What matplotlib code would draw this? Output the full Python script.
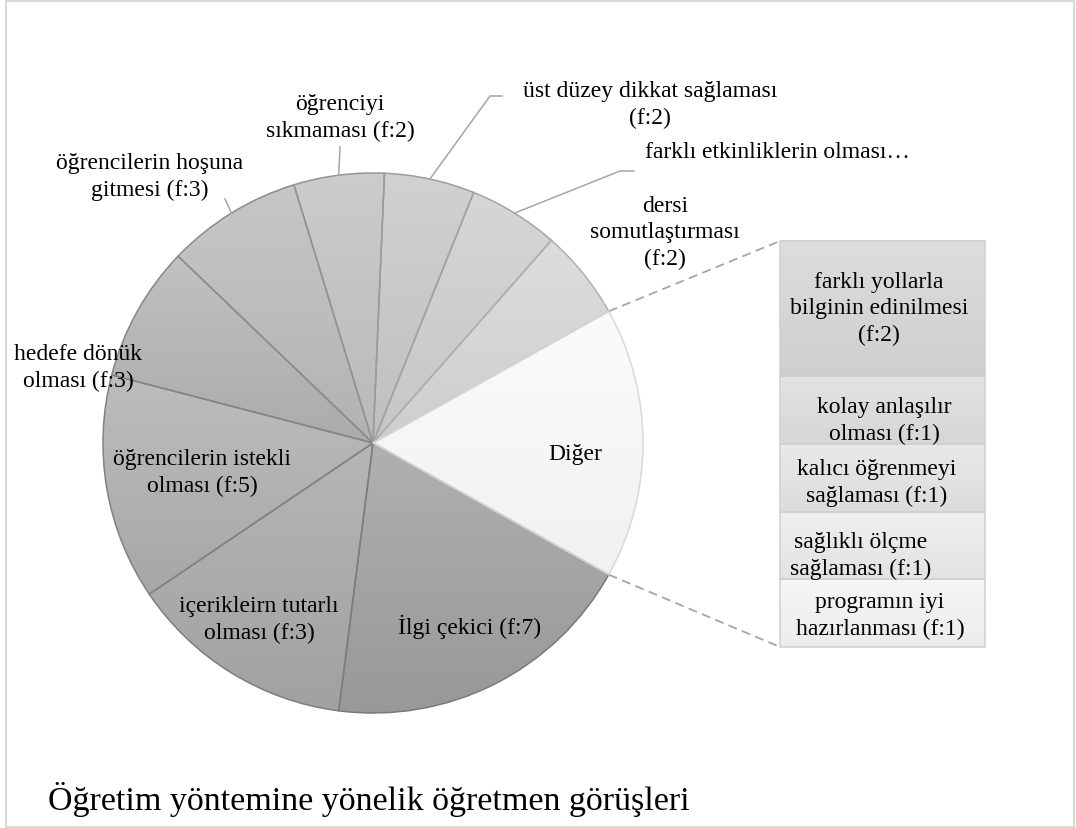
import numpy as np
import matplotlib
matplotlib.use("Agg")
import matplotlib.pyplot as plt
from matplotlib.colors import to_rgb
from matplotlib.patches import Rectangle

plt.rcParams["font.family"] = ["Liberation Serif", "DejaVu Serif"]

# ---------------------------------------------------------------------------
# data (slice sizes; labels as printed)
# ---------------------------------------------------------------------------
pie_labels = [
    "İlgi çekici (f:7)",
    "içerikleirn tutarlı\nolması (f:3)",
    "öğrencilerin istekli\nolması (f:5)",
    "hedefe dönük\nolması (f:3)",
    "öğrencilerin hoşuna\ngitmesi (f:3)",
    "öğrenciyi\nsıkmaması (f:2)",
    "üst düzey dikkat sağlaması\n(f:2)",
    "farklı etkinliklerin olması…",
    "dersi\nsomutlaştırması\n(f:2)",
    "Diğer",
]
pie_values = [7, 5, 5, 3, 3, 2, 2, 2, 2, 6]

bar_labels = [
    "farklı yollarla\nbilginin edinilmesi\n(f:2)",
    "kolay anlaşılır\nolması (f:1)",
    "kalıcı öğrenmeyi\nsağlaması (f:1)",
    "sağlıklı ölçme\nsağlaması (f:1)",
    "programın iyi\nhazırlanması (f:1)",
]
bar_values = [2, 1, 1, 1, 1]

title = "Öğretim yöntemine yönelik öğretmen görüşleri"

# ---------------------------------------------------------------------------
# styling / layout (pixel coordinates, y measured from the top)
# ---------------------------------------------------------------------------
W, H = 1076, 829
def Y(y):
    return H - y

pie_tops = ["#b0b0b0", "#b6b6b6", "#bdbdbd", "#c1c1c1", "#c7c7c7",
            "#cccccc", "#d1d1d1", "#d6d6d6", "#dddddd", "#fbfbfb"]
pie_bots = ["#989898", "#a1a1a1", "#a7a7a7", "#ababab", "#b2b2b2",
            "#b9b9b9", "#bfbfbf", "#c6c6c6", "#cecece", "#f1f1f1"]
pie_edges = ["#7a7a7a", "#7e7e7e", "#828282", "#868686", "#8c8c8c",
             "#959595", "#9c9c9c", "#a4a4a4", "#b0b0b0", "#d9d9d9"]
bar_tops = ["#dddddd", "#e3e3e3", "#e9e9e9", "#efefef", "#f6f6f6"]
bar_bots = ["#cfcfcf", "#d6d6d6", "#dcdcdc", "#e3e3e3", "#ececec"]

cx, cy, R = 373, 444, 270
bar_x0, bar_x1 = 780, 985
bar_top, bar_bot = 242, 648

pie_text_pos = [(470, 627), (259, 620), (202, 473), (78, 368), (150, 177),
                (340, 118), (650, 105), (777, 153), (665, 233), (575, 455)]
bar_text_pos = [(879, 309), (884, 421), (877, 483), (861, 556), (880, 616)]

FS = 17
LS = 1.33
leader = "#a6a6a6"


def grad_fill(ax, patch, top, bottom, z):
    verts = patch.get_patch_transform().transform(patch.get_path().vertices)
    x0, y0 = verts.min(axis=0)
    x1, y1 = verts.max(axis=0)
    img = np.linspace(to_rgb(top), to_rgb(bottom), 256).reshape(256, 1, 3)
    ax.imshow(img, extent=[x0, x1, y0, y1], origin="upper", aspect="auto",
              interpolation="bilinear", clip_path=patch, zorder=z)


fig = plt.figure(figsize=(W / 100, H / 100), dpi=100)
ax = fig.add_axes([0, 0, 1, 1])

# --- main pie --------------------------------------------------------------
total = sum(pie_values)
start = -pie_values[-1] / total * 180.0
wedges, _ = ax.pie(pie_values, startangle=start, counterclock=False,
                   center=(cx, Y(cy)), radius=R,
                   wedgeprops=dict(linewidth=1.1))
ax.set_xlim(0, W); ax.set_ylim(0, H)
for w, t, b, e in zip(wedges, pie_tops, pie_bots, pie_edges):
    w.set_facecolor("none")
    w.set_edgecolor(e)
    w.set_zorder(3)
    grad_fill(ax, w, t, b, 2)

for lab, (x, y) in zip(pie_labels, pie_text_pos):
    ax.text(x, Y(y), lab, ha="center", va="center", fontsize=FS,
            linespacing=LS, zorder=6)

# leader lines for outside labels
def edge_pt(i):
    a0 = start - sum(pie_values[:i]) / total * 360
    a = np.deg2rad(a0 - pie_values[i] / total * 180)
    return cx + R * np.cos(a), cy - R * np.sin(a)

for i, pts in [(4, [(225, 200)]), (5, [(340, 148)]),
               (6, [(490, 97), (502, 97)]), (7, [(620, 172), (634, 172)])]:
    x0, y0 = edge_pt(i)
    xs = [x0] + [p[0] for p in pts]
    ys = [Y(y0)] + [Y(p[1]) for p in pts]
    ax.plot(xs, ys, color=leader, lw=1.1, zorder=5)

# --- bar of "Diğer" --------------------------------------------------------
unit = (bar_bot - bar_top) / sum(bar_values)
bottoms = Y(bar_top) - np.cumsum(bar_values) * unit
bars = ax.bar([(bar_x0 + bar_x1) / 2] * len(bar_values),
              np.array(bar_values) * unit, bottom=bottoms,
              width=bar_x1 - bar_x0, linewidth=1.1, edgecolor="#d0d0d0")
for r, t, b in zip(bars, bar_tops, bar_bots):
    r.set_facecolor("none")
    r.set_zorder(3)
    grad_fill(ax, r, t, b, 2)
for lab, (x, y) in zip(bar_labels, bar_text_pos):
    ax.text(x, Y(y), lab, ha="center", va="center", fontsize=FS,
            linespacing=LS, zorder=6)

# dashed connectors
a_top = np.deg2rad(pie_values[-1] / total * 180)
for sgn, yb in [(1, bar_top), (-1, bar_bot)]:
    px, py = cx + R * np.cos(a_top), cy - sgn * R * np.sin(a_top)
    ax.plot([px, bar_x0], [Y(py), Y(yb)], color=leader, lw=1.3,
            ls=(0, (5, 3)), zorder=1)

# title and frame
ax.text(48, Y(800), title, ha="left", va="center", fontsize=24.5)
fig.patches.append(Rectangle((6 / W, 1 / H), (W - 8) / W, (H - 3) / H,
                             transform=fig.transFigure, fill=False,
                             edgecolor="#d9d9d9", lw=1.5))

ax.set_xlim(0, W); ax.set_ylim(0, H)
ax.set_aspect("equal")
ax.axis("off")
fig.savefig("out.png", dpi=100)
